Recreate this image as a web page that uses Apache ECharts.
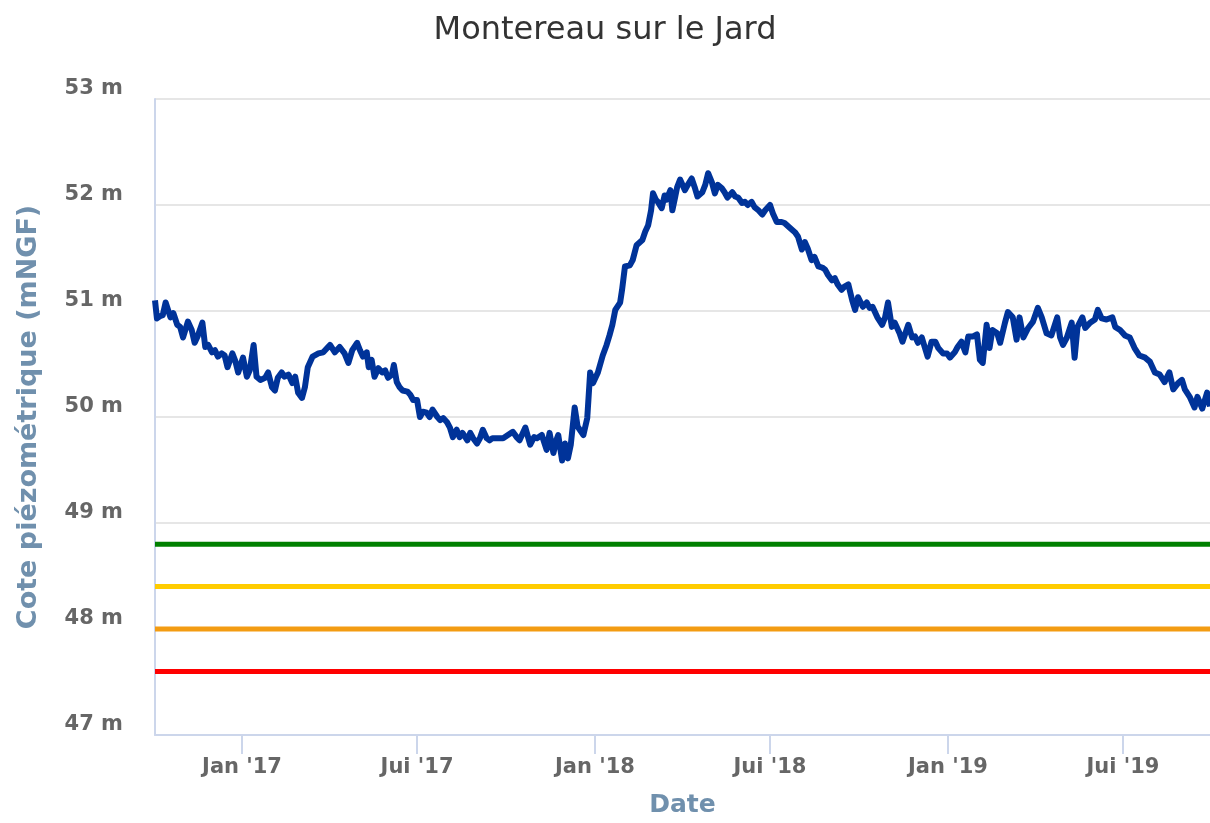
<!DOCTYPE html>
<html lang="fr">
<head>
<meta charset="utf-8">
<title>Montereau sur le Jard</title>
<script src="https://cdn.jsdelivr.net/npm/echarts@6/dist/echarts.min.js"></script>
<style>
  html, body { margin: 0; padding: 0; background: #fff; }
  #chart { width: 1210px; height: 823px; }
</style>
</head>
<body>
<div id="chart"></div>
<script>
// piezometric level, days counted from startDate
const startDate = '2016-10-03';
const endDate = '2019-09-29';
const dayOffsets = [
  0, 2, 5, 8, 11, 16, 19, 23, 26, 29,
  34, 38, 41, 44, 49, 52, 55, 59, 62, 65,
  69, 72, 75, 80, 83, 86, 91, 95, 98, 102,
  105, 109, 114, 117, 121, 124, 127, 131, 134, 138,
  142, 145, 148, 152, 155, 158, 163, 169, 174, 179,
  181, 186, 191, 196, 200, 204, 209, 212, 215, 219,
  221, 224, 227, 231, 235, 238, 241, 245, 247, 250,
  253, 256, 261, 264, 267, 271, 274, 277, 281, 284,
  287, 292, 295, 298, 302, 305, 308, 312, 315, 318,
  323, 326, 329, 333, 336, 339, 343, 346, 349, 355,
  360, 365, 370, 374, 377, 383, 388, 392, 395, 400,
  405, 408, 412, 415, 417, 421, 424, 427, 430, 434,
  437, 443, 447, 450, 453, 458, 463, 467, 470, 473,
  476, 481, 483, 486, 491, 494, 498, 504, 507, 510,
  513, 515, 518, 520, 524, 527, 529, 533, 535, 538,
  540, 543, 545, 548, 551, 555, 558, 561, 566, 569,
  572, 576, 579, 582, 586, 589, 592, 597, 600, 603,
  607, 610, 613, 617, 620, 624, 628, 631, 636, 639,
  643, 648, 651, 657, 662, 665, 669, 672, 675, 679,
  682, 686, 690, 693, 696, 700, 703, 706, 710, 713,
  717, 721, 724, 727, 732, 736, 739, 742, 747, 752,
  755, 758, 762, 765, 770, 773, 779, 783, 786, 789,
  793, 796, 799, 803, 807, 810, 815, 819, 822, 827,
  830, 834, 838, 841, 846, 850, 853, 856, 860, 863,
  866, 871, 874, 879, 882, 887, 891, 894, 898, 903,
  905, 908, 913, 917, 922, 927, 933, 936, 939, 943,
  948, 951, 954, 959, 962, 967, 972, 975, 979, 984,
  990, 993, 998, 1003, 1008, 1013, 1018, 1024, 1029, 1034,
  1039, 1044, 1049, 1053, 1058, 1062, 1065, 1070, 1075, 1078,
  1083, 1088, 1091
];
const levels = [
  51.10, 50.93, 50.95, 50.96, 51.08, 50.94, 50.98, 50.87, 50.85, 50.75,
  50.90, 50.82, 50.70, 50.76, 50.89, 50.66, 50.68, 50.61, 50.63, 50.57,
  50.60, 50.58, 50.47, 50.60, 50.53, 50.42, 50.56, 50.38, 50.44, 50.68,
  50.38, 50.35, 50.37, 50.42, 50.28, 50.25, 50.37, 50.42, 50.38, 50.40,
  50.32, 50.38, 50.23, 50.18, 50.28, 50.47, 50.57, 50.60, 50.61, 50.66,
  50.68, 50.61, 50.66, 50.60, 50.51, 50.63, 50.70, 50.63, 50.57, 50.61,
  50.47, 50.54, 50.38, 50.46, 50.42, 50.44, 50.37, 50.40, 50.49, 50.33,
  50.28, 50.25, 50.24, 50.21, 50.16, 50.16, 50.00, 50.05, 50.04, 50.00,
  50.07, 50.00, 49.97, 49.99, 49.95, 49.90, 49.81, 49.88, 49.81, 49.85,
  49.78, 49.85, 49.80, 49.75, 49.80, 49.88, 49.80, 49.78, 49.80, 49.80,
  49.80, 49.83, 49.86, 49.81, 49.78, 49.90, 49.74, 49.81, 49.80, 49.83,
  49.69, 49.85, 49.66, 49.78, 49.83, 49.59, 49.75, 49.61, 49.74, 50.09,
  49.91, 49.83, 49.99, 50.42, 50.32, 50.42, 50.58, 50.68, 50.77, 50.87,
  51.01, 51.08, 51.20, 51.42, 51.43, 51.48, 51.62, 51.67, 51.75, 51.81,
  51.95, 52.11, 52.05, 52.03, 51.97, 52.09, 52.05, 52.14, 51.95, 52.08,
  52.17, 52.24, 52.25, 52.14, 52.19, 52.25, 52.17, 52.08, 52.12, 52.19,
  52.30, 52.21, 52.11, 52.19, 52.16, 52.12, 52.07, 52.12, 52.08, 52.07,
  52.02, 52.03, 52.00, 52.03, 51.98, 51.95, 51.91, 51.95, 52.00, 51.92,
  51.84, 51.84, 51.83, 51.78, 51.74, 51.70, 51.58, 51.65, 51.59, 51.48,
  51.51, 51.42, 51.41, 51.39, 51.34, 51.29, 51.31, 51.25, 51.20, 51.23,
  51.25, 51.10, 51.01, 51.13, 51.04, 51.08, 51.03, 51.04, 50.94, 50.87,
  50.94, 51.08, 50.85, 50.89, 50.79, 50.71, 50.87, 50.75, 50.76, 50.70,
  50.75, 50.66, 50.57, 50.71, 50.71, 50.65, 50.60, 50.60, 50.56, 50.61,
  50.66, 50.71, 50.61, 50.76, 50.76, 50.78, 50.54, 50.51, 50.87, 50.65,
  50.82, 50.79, 50.70, 50.89, 50.99, 50.94, 50.73, 50.94, 50.75, 50.84,
  50.84, 50.90, 51.03, 50.94, 50.79, 50.77, 50.94, 50.75, 50.68, 50.75,
  50.89, 50.56, 50.85, 50.94, 50.84, 50.89, 50.92, 51.01, 50.93, 50.92,
  50.94, 50.85, 50.82, 50.77, 50.75, 50.65, 50.58, 50.56, 50.52, 50.42,
  50.40, 50.33, 50.42, 50.26, 50.32, 50.35, 50.26, 50.19, 50.09, 50.19,
  50.08, 50.23, 50.10
];

// alert thresholds
const thresholdLevels = [48.8, 48.4, 48.0, 47.6];
const thresholdColors = ['#008000', '#ffcc00', '#f39c12', '#ff0000'];

const tickDates = ['2017-01-01', '2017-07-01', '2018-01-01', '2018-07-01', '2019-01-01', '2019-07-01'];
const tickLabels = ["Jan '17", "Jui '17", "Jan '18", "Jui '18", "Jan '19", "Jui '19"];

const DAY = 86400000;
const t0 = Date.parse(startDate);
const t1 = Date.parse(endDate);
const tickValues = tickDates.map(s => Date.parse(s));
const mainData = dayOffsets.map((d, i) => [t0 + d * DAY, levels[i]]);

const labelFont = {
  fontFamily: 'DejaVu Sans',
  fontWeight: 'bold',
  fontSize: 21,
  color: '#666666'
};

const series = thresholdLevels.map((v, i) => ({
  type: 'line',
  data: [[t0, v], [t1, v]],
  showSymbol: false,
  silent: true,
  lineStyle: { color: thresholdColors[i], width: 5 }
}));
series.push({
  type: 'line',
  data: mainData,
  showSymbol: false,
  lineStyle: { color: '#003399', width: 6, join: 'round' }
});

const chart = echarts.init(document.getElementById('chart'));
chart.setOption({
  animation: false,
  backgroundColor: '#ffffff',
  title: {
    text: 'Montereau sur le Jard',
    left: 'center',
    top: 10,
    textStyle: { fontFamily: 'DejaVu Sans', fontWeight: 'normal', fontSize: 32, color: '#333333' }
  },
  grid: { left: 155, right: 0, top: 99, bottom: 88, containLabel: false },
  xAxis: {
    // timestamps on a value axis so ticks can sit on Jan / Jul
    type: 'value',
    min: t0,
    max: t1,
    name: 'Date',
    nameLocation: 'middle',
    nameGap: 58,
    nameTextStyle: { fontFamily: 'DejaVu Sans', fontWeight: 'bold', fontSize: 25, color: '#7090ad' },
    axisLine: { show: true, lineStyle: { color: '#ccd6eb', width: 2 } },
    axisTick: { show: true, length: 19, customValues: tickValues, lineStyle: { color: '#ccd6eb', width: 2 } },
    axisLabel: Object.assign({
      customValues: tickValues,
      margin: 22,
      formatter: function (val) {
        const i = tickValues.findIndex(t => Math.abs(t - val) < DAY);
        return i >= 0 ? tickLabels[i] : '';
      }
    }, labelFont),
    splitLine: { show: false }
  },
  yAxis: {
    type: 'value',
    min: 47,
    max: 53,
    interval: 1,
    name: 'Cote piézométrique (mNGF)',
    nameLocation: 'middle',
    nameGap: 113,
    nameTextStyle: { fontFamily: 'DejaVu Sans', fontWeight: 'bold', fontSize: 27, color: '#7090ad' },
    axisLine: { show: true, lineStyle: { color: '#ccd6eb', width: 2 } },
    axisTick: { show: false },
    axisLabel: Object.assign({
      margin: 32,
      verticalAlign: 'bottom',
      formatter: '{value} m'
    }, labelFont),
    splitLine: { show: true, lineStyle: { color: '#e6e6e6', width: 2 } }
  },
  series: series
});
</script>
</body>
</html>
